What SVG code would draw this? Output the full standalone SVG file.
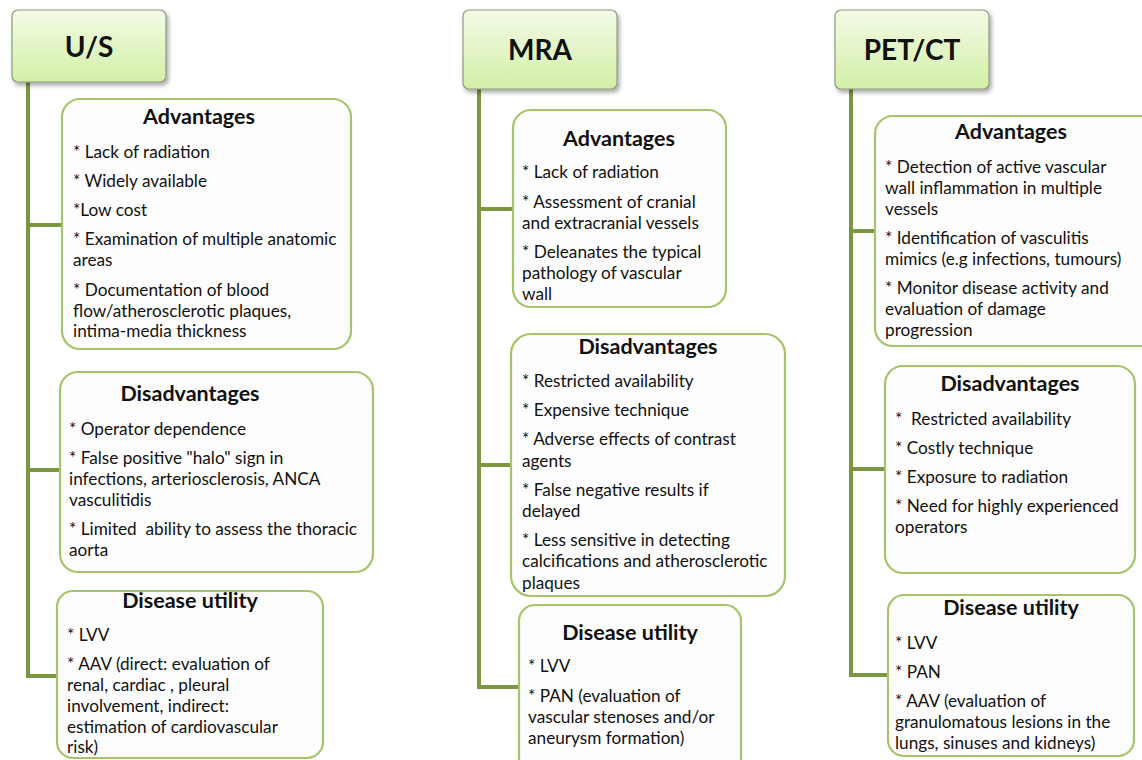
<svg xmlns="http://www.w3.org/2000/svg" width="1142" height="760" viewBox="0 0 1142 760">
<defs>
<linearGradient id="hg" x1="0" y1="0" x2="0" y2="1">
<stop offset="0" stop-color="#f3fbe6"/>
<stop offset="1" stop-color="#d3efa6"/>
</linearGradient>
<filter id="sh" x="-10%" y="-10%" width="130%" height="140%">
<feDropShadow dx="2" dy="3" stdDeviation="2" flood-color="#000" flood-opacity="0.35"/>
</filter>
</defs>
<style>
.hdr{fill:url(#hg);stroke:#8c9a80;stroke-width:1.2;filter:url(#sh)}
.ht{font-family:Lato,"Open Sans","Liberation Sans",sans-serif;font-weight:bold;font-size:28px;fill:#111;text-anchor:middle}
.box{fill:#fdfdfd;stroke:#a6c46a;stroke-width:2.2}
.tt{font-family:Lato,"Open Sans","Liberation Sans",sans-serif;font-weight:bold;font-size:21.5px;fill:#111;text-anchor:middle}
.t{font-family:Lato,"Open Sans","Liberation Sans",sans-serif;font-size:17.2px;fill:#111}
.c{stroke:#7a9640;stroke-width:4;fill:none}
</style>
<rect width="1142" height="760" fill="#fff"/>
<g id="connectors">
<path class="c" d="M28,82 V676 H57 M28,225 H62 M28,470 H60"/>
<path class="c" d="M479,89 V687 H519 M479,209 H513 M479,465 H511"/>
<path class="c" d="M851,89 V675 H888 M851,231 H875 M851,469 H885"/>
</g>
<g id="us">
<rect class="hdr" x="12" y="10" width="154" height="72" rx="6"/>
<text class="ht" x="89" y="57">U/S</text>
</g>
<g id="us-adv">
<rect class="box" x="62" y="99" width="289" height="250" rx="18"/>
<text class="tt" x="199" y="124">Advantages</text>
<text class="t" x="73"><tspan x="73" y="158">* Lack of radiation</tspan><tspan x="73" y="187">* Widely available</tspan><tspan x="73" y="216">*Low cost</tspan><tspan x="73" y="245">* Examination of multiple anatomic</tspan><tspan x="73" y="266">areas</tspan><tspan x="73" y="296">* Documentation of blood</tspan><tspan x="73" y="317">flow/atherosclerotic plaques,</tspan><tspan x="73" y="337">intima-media thickness</tspan></text>
</g>
<g id="us-dis">
<rect class="box" x="60" y="372" width="313" height="200" rx="18"/>
<text class="tt" x="190" y="401">Disadvantages</text>
<text class="t"><tspan x="69" y="435">* Operator dependence</tspan><tspan x="69" y="464">* False positive "halo" sign in</tspan><tspan x="69" y="485">infections, arteriosclerosis, ANCA</tspan><tspan x="69" y="506">vasculitidis</tspan><tspan x="69" y="535" xml:space="preserve">* Limited  ability to assess the thoracic</tspan><tspan x="69" y="556">aorta</tspan></text>
</g>
<g id="us-util">
<rect class="box" x="57" y="591" width="266" height="167" rx="16"/>
<text class="tt" x="190" y="608">Disease utility</text>
<text class="t"><tspan x="67" y="641">* LVV</tspan><tspan x="67" y="670">* AAV (direct: evaluation of</tspan><tspan x="67" y="691">renal, cardiac , pleural</tspan><tspan x="67" y="712">involvement, indirect:</tspan><tspan x="67" y="733">estimation of cardiovascular</tspan><tspan x="67" y="753">risk)</tspan></text>
</g>
<g id="mra">
<rect class="hdr" x="463" y="10" width="154" height="79" rx="6"/>
<text class="ht" x="540" y="60">MRA</text>
</g>
<g id="mra-adv">
<rect class="box" x="513" y="110" width="213" height="197" rx="18"/>
<text class="tt" x="619" y="146">Advantages</text>
<text class="t"><tspan x="522" y="178">* Lack of radiation</tspan><tspan x="522" y="208">* Assessment of cranial</tspan><tspan x="522" y="229">and extracranial vessels</tspan><tspan x="522" y="258">* Deleanates the typical</tspan><tspan x="522" y="279">pathology of vascular</tspan><tspan x="522" y="300">wall</tspan></text>
</g>
<g id="mra-dis">
<rect class="box" x="511" y="334" width="274" height="262" rx="20"/>
<text class="tt" x="648" y="354">Disadvantages</text>
<text class="t"><tspan x="522" y="387">* Restricted availability</tspan><tspan x="522" y="416">* Expensive technique</tspan><tspan x="522" y="445">* Adverse effects of contrast</tspan><tspan x="522" y="467">agents</tspan><tspan x="522" y="496">* False negative results if</tspan><tspan x="522" y="517">delayed</tspan><tspan x="522" y="546">* Less sensitive in detecting</tspan><tspan x="522" y="567">calcifications and atherosclerotic</tspan><tspan x="522" y="589">plaques</tspan></text>
</g>
<g id="mra-util">
<rect class="box" x="519" y="605" width="222" height="175" rx="16"/>
<text class="tt" x="630" y="640">Disease utility</text>
<text class="t"><tspan x="528" y="672">* LVV</tspan><tspan x="528" y="702">* PAN (evaluation of</tspan><tspan x="528" y="723">vascular stenoses and/or</tspan><tspan x="528" y="744">aneurysm formation)</tspan></text>
</g>
<g id="pet">
<rect class="hdr" x="835" y="10" width="154" height="79" rx="6"/>
<text class="ht" x="912" y="60">PET/CT</text>
</g>
<g id="pet-adv">
<rect class="box" x="875" y="116" width="285" height="230" rx="18"/>
<text class="tt" x="1011" y="139">Advantages</text>
<text class="t"><tspan x="885" y="173">* Detection of active vascular</tspan><tspan x="885" y="194">wall inflammation in multiple</tspan><tspan x="885" y="215">vessels</tspan><tspan x="885" y="244">* Identification of vasculitis</tspan><tspan x="885" y="265">mimics (e.g infections, tumours)</tspan><tspan x="885" y="294">* Monitor disease activity and</tspan><tspan x="885" y="315">evaluation of damage</tspan><tspan x="885" y="336">progression</tspan></text>
</g>
<g id="pet-dis">
<rect class="box" x="885" y="366" width="250" height="207" rx="18"/>
<text class="tt" x="1010" y="391">Disadvantages</text>
<text class="t"><tspan x="895" y="425" xml:space="preserve">*  Restricted availability</tspan><tspan x="895" y="454">* Costly technique</tspan><tspan x="895" y="483">* Exposure to radiation</tspan><tspan x="895" y="512">* Need for highly experienced</tspan><tspan x="895" y="533">operators</tspan></text>
</g>
<g id="pet-util">
<rect class="box" x="888" y="595" width="246" height="161" rx="16"/>
<text class="tt" x="1011" y="615">Disease utility</text>
<text class="t"><tspan x="895" y="649">* LVV</tspan><tspan x="895" y="678">* PAN</tspan><tspan x="895" y="707">* AAV (evaluation of</tspan><tspan x="895" y="728">granulomatous lesions in the</tspan><tspan x="895" y="749">lungs, sinuses and kidneys)</tspan></text>
</g>
</svg>
